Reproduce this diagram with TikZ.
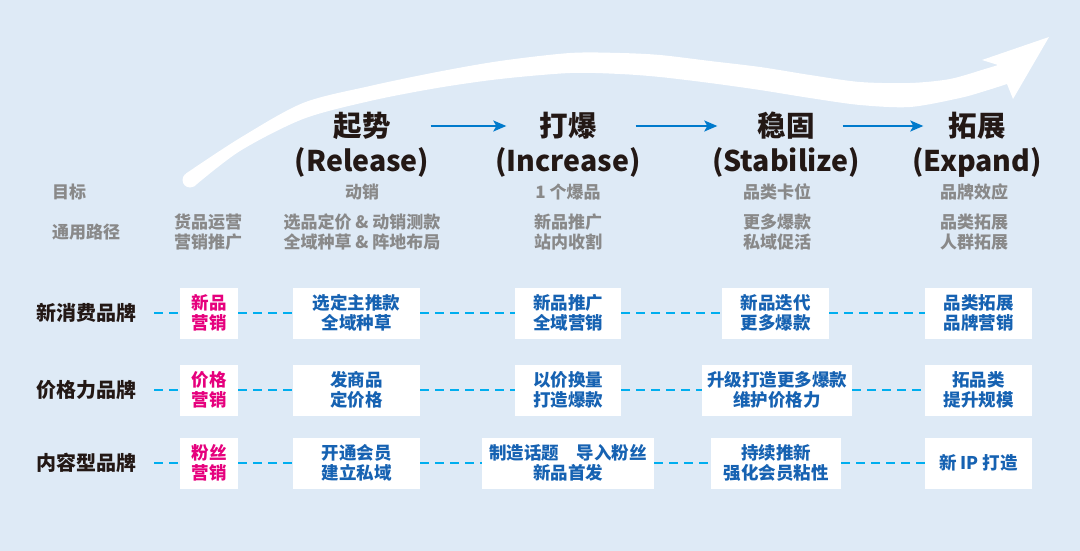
\documentclass[tikz,border=0pt]{standalone}
\usepackage{fontspec}
\setmainfont{Noto Sans CJK SC}
\usepackage{xcolor}
\usepackage{tikz}
\usetikzlibrary{arrows.meta,positioning}
\definecolor{BgBlue}{RGB}{222,234,246}
\definecolor{TxtGray}{RGB}{137,137,137}
\definecolor{TxtBlue}{RGB}{22,98,178}
\definecolor{TxtPink}{RGB}{230,0,125}
\definecolor{TxtBlack}{RGB}{35,24,21}
\definecolor{DashCyan}{RGB}{0,174,239}
\definecolor{ArrBlue}{RGB}{0,122,204}

\begin{document}
\begin{tikzpicture}[
  x=1pt, y=-1pt,
  >={Stealth[length=13pt,width=11pt,inset=3pt]},
  line cap=round,
  line join=round,
  every node/.style={font=\bfseries, inner sep=0pt},
  stage/.style={font=\bfseries\fontsize{28.5}{34}\selectfont, text=TxtBlack},
  note/.style={font=\bfseries\fontsize{17}{20}\selectfont, text=TxtGray, align=center},
  brand/.style={font=\bfseries\fontsize{20}{24}\selectfont, text=TxtBlack},
  card/.style={fill=white, minimum height=51pt, align=center, text=TxtBlue,
    font=\bfseries\fontsize{17.5}{20}\selectfont},
  tag/.style={card, minimum width=58pt, text=TxtPink},
  dashline/.style={DashCyan, line width=2.8pt, dash pattern=on 9pt off 6pt, line cap=butt},
  flow/.style={->, ArrBlue, line width=2pt, line cap=butt}
]
  \useasboundingbox (0,0) rectangle (1080,551);
  \fill[BgBlue] (0,0) rectangle (1080,551);

  % Big white growth arrow
  \fill[white] (186,173.5)
    -- plot[smooth] coordinates {(186,173.5) (240,138) (303,103) (370,86) (437,72)
        (500,61) (570,53) (620,53) (660,55) (710,61) (760,67) (810,75)
        (860,82) (910,83) (950,79) (985,69) (998,65)}
    -- (982,60) -- (1049,37) -- (1013,99) -- (1007,84)
    -- plot[smooth] coordinates {(1007,84) (985,91) (960,98) (910,107) (860,105)
        (810,98) (760,90) (710,83) (660,77) (620,74) (570,73) (500,79)
        (437,88) (370,101) (303,119) (240,151) (194,186.5)}
    -- cycle;
  \fill[white] (190,180) circle (7.5);

  % Stage titles
  \node[stage] (s1) at (362,126) {起势};
  \node[stage] (e1) at (362,162) {(Release)};
  \node[stage] (s2) at (568,126) {打爆};
  \node[stage] (e2) at (568,162) {(Increase)};
  \node[stage] (s3) at (786,126) {稳固};
  \node[stage] (e3) at (786,162) {(Stabilize)};
  \node[stage] (s4) at (977,126) {拓展};
  \node[stage] (e4) at (977,162) {(Expand)};

  \foreach \a/\b/\sa/\sb in {s1/s2/40/33, s2/s3/39/40, s3/s4/28/25}
    \draw[flow, shorten <=\sa pt, shorten >=\sb pt] (\a.east) -- (\b.west);

  % Goals and general path
  \node[note, anchor=west] (goal) at (52,192) {目标};
  \node[note, anchor=west] (path) at (52,232) {通用路径};
  \node[note] (p0) at (208,232) {货品运营\\营销推广};
  \node[note] (g1) at (362,192) {动销};
  \node[note] (p1) at (362,232) {选品定价 \& 动销测款\\全域种草 \& 阵地布局};
  \node[note] (g2) at (568,192) {1 个爆品};
  \node[note] (p2) at (568,232) {新品推广\\站内收割};
  \node[note] (g3) at (777,192) {品类卡位};
  \node[note] (p3) at (777,232) {更多爆款\\私域促活};
  \node[note] (g4) at (974,192) {品牌效应};
  \node[note] (p4) at (974,232) {品类拓展\\人群拓展};

  % Brand rows
  \node[brand] (r1) at (86,313) {新消费品牌};
  \node[brand] (r2) at (86,390) {价格力品牌};
  \node[brand] (r3) at (86,463) {内容型品牌};

  \node[tag] (b11) at (209,313) {新品\\营销};
  \node[card, minimum width=127pt] (b12) at (356.5,313) {选定主推款\\全域种草};
  \node[card, minimum width=106pt] (b13) at (568,313) {新品推广\\全域营销};
  \node[card, minimum width=107pt] (b14) at (775.5,313) {新品迭代\\更多爆款};
  \node[card, minimum width=107pt] (b15) at (978.5,313) {品类拓展\\品牌营销};

  \node[tag] (b21) at (209,390) {价格\\营销};
  \node[card, minimum width=127pt] (b22) at (356.5,390) {发商品\\定价格};
  \node[card, minimum width=106pt] (b23) at (568,390) {以价换量\\打造爆款};
  \node[card, minimum width=150pt] (b24) at (777,390) {升级打造更多爆款\\维护价格力};
  \node[card, minimum width=107pt] (b25) at (978.5,390) {拓品类\\提升规模};

  \node[tag] (b31) at (209,463) {粉丝\\营销};
  \node[card, minimum width=127pt] (b32) at (356.5,463) {开通会员\\建立私域};
  \node[card, minimum width=172pt] (b33) at (568,463) {制造话题　导入粉丝\\新品首发};
  \node[card, minimum width=130pt] (b34) at (776,463) {持续推新\\强化会员粘性};
  \node[card, minimum width=107pt] (b35) at (978.5,463) {新 IP 打造};

  \foreach \r in {1,2,3}{
    \draw[dashline, shorten <=18pt] (r\r.east) -- (b\r1.west);
    \foreach \c [evaluate=\c as \n using int(\c+1)] in {1,...,4}
      \draw[dashline] (b\r\c.east) -- (b\r\n.west);
  }
\end{tikzpicture}
\end{document}
